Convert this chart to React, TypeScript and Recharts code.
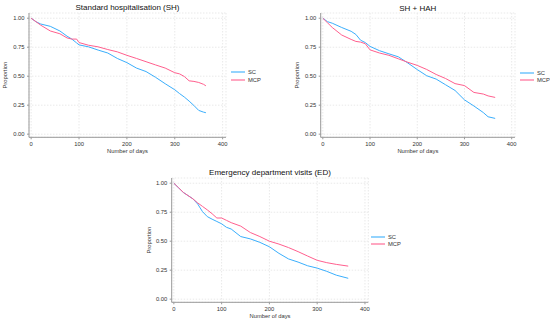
import { CartesianGrid, Legend, Line, LineChart, XAxis, YAxis } from "recharts";

const shDays = [0, 10, 20, 40, 60, 75, 85, 95, 100, 120, 140, 160, 180, 200, 220, 240, 260, 280, 300, 310, 320, 330, 340, 350, 360, 365];
const shSC = [1.0, 0.97, 0.95, 0.93, 0.89, 0.845, 0.82, 0.787, 0.77, 0.753, 0.725, 0.7, 0.653, 0.617, 0.57, 0.54, 0.49, 0.435, 0.383, 0.35, 0.32, 0.285, 0.247, 0.205, 0.19, 0.185];
const shMCP = [1.0, 0.97, 0.94, 0.89, 0.866, 0.83, 0.82, 0.82, 0.79, 0.767, 0.753, 0.73, 0.71, 0.68, 0.653, 0.625, 0.597, 0.57, 0.53, 0.52, 0.497, 0.46, 0.455, 0.446, 0.43, 0.417];

const hahDays = [0, 10, 20, 40, 60, 70, 80, 90, 100, 120, 140, 160, 180, 200, 220, 240, 260, 280, 300, 320, 340, 350, 365];
const hahSC = [1.0, 0.97, 0.957, 0.92, 0.887, 0.86, 0.81, 0.79, 0.757, 0.72, 0.693, 0.667, 0.614, 0.557, 0.504, 0.475, 0.426, 0.377, 0.296, 0.243, 0.186, 0.15, 0.136];
const hahMCP = [1.0, 0.96, 0.92, 0.855, 0.817, 0.8, 0.794, 0.78, 0.727, 0.7, 0.68, 0.65, 0.62, 0.593, 0.558, 0.515, 0.48, 0.436, 0.419, 0.36, 0.346, 0.33, 0.317];

const edDays = [0, 10, 20, 40, 50, 60, 70, 80, 90, 100, 110, 120, 140, 160, 180, 200, 220, 240, 260, 280, 300, 320, 340, 365];
const edSC = [1.0, 0.96, 0.92, 0.865, 0.82, 0.755, 0.712, 0.69, 0.67, 0.65, 0.62, 0.605, 0.54, 0.52, 0.49, 0.452, 0.395, 0.347, 0.32, 0.288, 0.268, 0.24, 0.207, 0.18];
const edMCP = [1.0, 0.96, 0.92, 0.865, 0.83, 0.8, 0.77, 0.737, 0.7, 0.7, 0.68, 0.66, 0.63, 0.575, 0.54, 0.5, 0.475, 0.445, 0.41, 0.372, 0.335, 0.315, 0.3, 0.285];

const xTicks = [0, 100, 200, 300, 400];
const yTicks = [0, 0.25, 0.5, 0.75, 1];
const seriesOrder = ["SC", "MCP"];

const SC_COLOR = "#3aaefc";
const MCP_COLOR = "#ff5f8e";
const FONT = "'Liberation Sans', Arial, sans-serif";

const rowsOf = (days: number[], sc: number[], mcp: number[]) =>
  days.map((d, i) => ({ day: d, sc: sc[i], mcp: mcp[i] }));

interface PanelProps {
  title: string;
  rows: { day: number; sc: number; mcp: number }[];
  left: number;
  top: number;
  width: number;
  height: number;
  margin: { top: number; right: number; bottom: number; left: number };
  yAxisWidth: number;
  yLabelOffset: number;
  titleTop: number;
  legendLeft: number;
  legendTop: number;
}

function Panel(p: PanelProps) {
  const plotLeft = p.margin.left + p.yAxisWidth;
  const plotWidth = p.width - plotLeft - p.margin.right;
  const tick = { fontSize: 5.8, fill: "#333", fontFamily: FONT };
  return (
    <div style={{ position: "absolute", left: p.left, top: p.top, width: p.width, height: p.height }}>
      <div
        style={{
          position: "absolute",
          left: plotLeft,
          width: plotWidth,
          top: p.titleTop,
          textAlign: "center",
          fontSize: 8,
          lineHeight: "8px",
          fontFamily: FONT,
          color: "#111",
          whiteSpace: "nowrap",
        }}
      >
        {p.title}
      </div>
      <LineChart width={p.width} height={p.height} data={p.rows} margin={p.margin}>
        <CartesianGrid stroke="#e9e9e9" strokeDasharray="1.5 1.5" />
        <XAxis
          dataKey="day"
          type="number"
          domain={[-4.5, 407]}
          ticks={xTicks}
          allowDataOverflow
          height={20}
          tickSize={2}
          tickMargin={2.7}
          stroke="#999"
          tick={tick}
          label={{ value: "Number of days", position: "insideBottom", offset: 4, style: { fontSize: 5.8, fill: "#333", fontFamily: FONT } }}
        />
        <YAxis
          type="number"
          domain={[-0.027, 1.045]}
          ticks={yTicks}
          allowDataOverflow
          width={p.yAxisWidth}
          tickSize={2}
          tickMargin={2.5}
          stroke="#999"
          tick={tick}
          tickFormatter={(v: number) => v.toFixed(2)}
          label={{
            value: "Proportion",
            angle: -90,
            position: "insideLeft",
            offset: p.yLabelOffset,
            style: { fontSize: 5.8, fill: "#333", fontFamily: FONT, textAnchor: "middle" },
          }}
        />
        <Legend
          layout="vertical"
          align="center"
          verticalAlign="middle"
          wrapperStyle={{ left: p.legendLeft, top: p.legendTop, width: "auto" }}
          content={({ payload }) => (
            <div style={{ fontFamily: FONT, fontSize: 5.8, color: "#333" }}>
              {[...(payload ?? [])]
                .sort((a, b) => seriesOrder.indexOf(String(a.value)) - seriesOrder.indexOf(String(b.value)))
                .map((e) => (
                  <div key={String(e.value)} style={{ display: "flex", alignItems: "center", height: 7.6 }}>
                    <span style={{ width: 14, height: 2, background: e.color, opacity: 0.55, marginRight: 3 }} />
                    <span>{e.value}</span>
                  </div>
                ))}
            </div>
          )}
        />
        <Line type="linear" dataKey="sc" name="SC" stroke={SC_COLOR} strokeWidth={1} dot={false} isAnimationActive={false} />
        <Line type="linear" dataKey="mcp" name="MCP" stroke={MCP_COLOR} strokeWidth={1} dot={false} isAnimationActive={false} />
      </LineChart>
    </div>
  );
}

export default function App() {
  return (
    <div style={{ position: "absolute", left: 0, top: 0, width: 550, height: 323, background: "#fff" }}>
      <Panel
        title="Standard hospitalisation (SH)"
        rows={rowsOf(shDays, shSC, shMCP)}
        left={0}
        top={0}
        width={275}
        height={160}
        margin={{ top: 13, right: 49, bottom: 2.7, left: 0 }}
        yAxisWidth={29}
        yLabelOffset={5}
        titleTop={4.4}
        legendLeft={231}
        legendTop={68.5}
      />
      <Panel
        title="SH + HAH"
        rows={rowsOf(hahDays, hahSC, hahMCP)}
        left={275}
        top={0}
        width={275}
        height={160}
        margin={{ top: 13, right: 35, bottom: 2.7, left: 17 }}
        yAxisWidth={28.7}
        yLabelOffset={4.7}
        titleTop={5.4}
        legendLeft={245}
        legendTop={69}
      />
      <Panel
        title="Emergency department visits (ED)"
        rows={rowsOf(edDays, edSC, edMCP)}
        left={140}
        top={160}
        width={275}
        height={163}
        margin={{ top: 18, right: 46.7, bottom: 0.7, left: 4.3 }}
        yAxisWidth={27.4}
        yLabelOffset={5}
        titleTop={8.8}
        legendLeft={231}
        legendTop={72.9}
      />
    </div>
  );
}
